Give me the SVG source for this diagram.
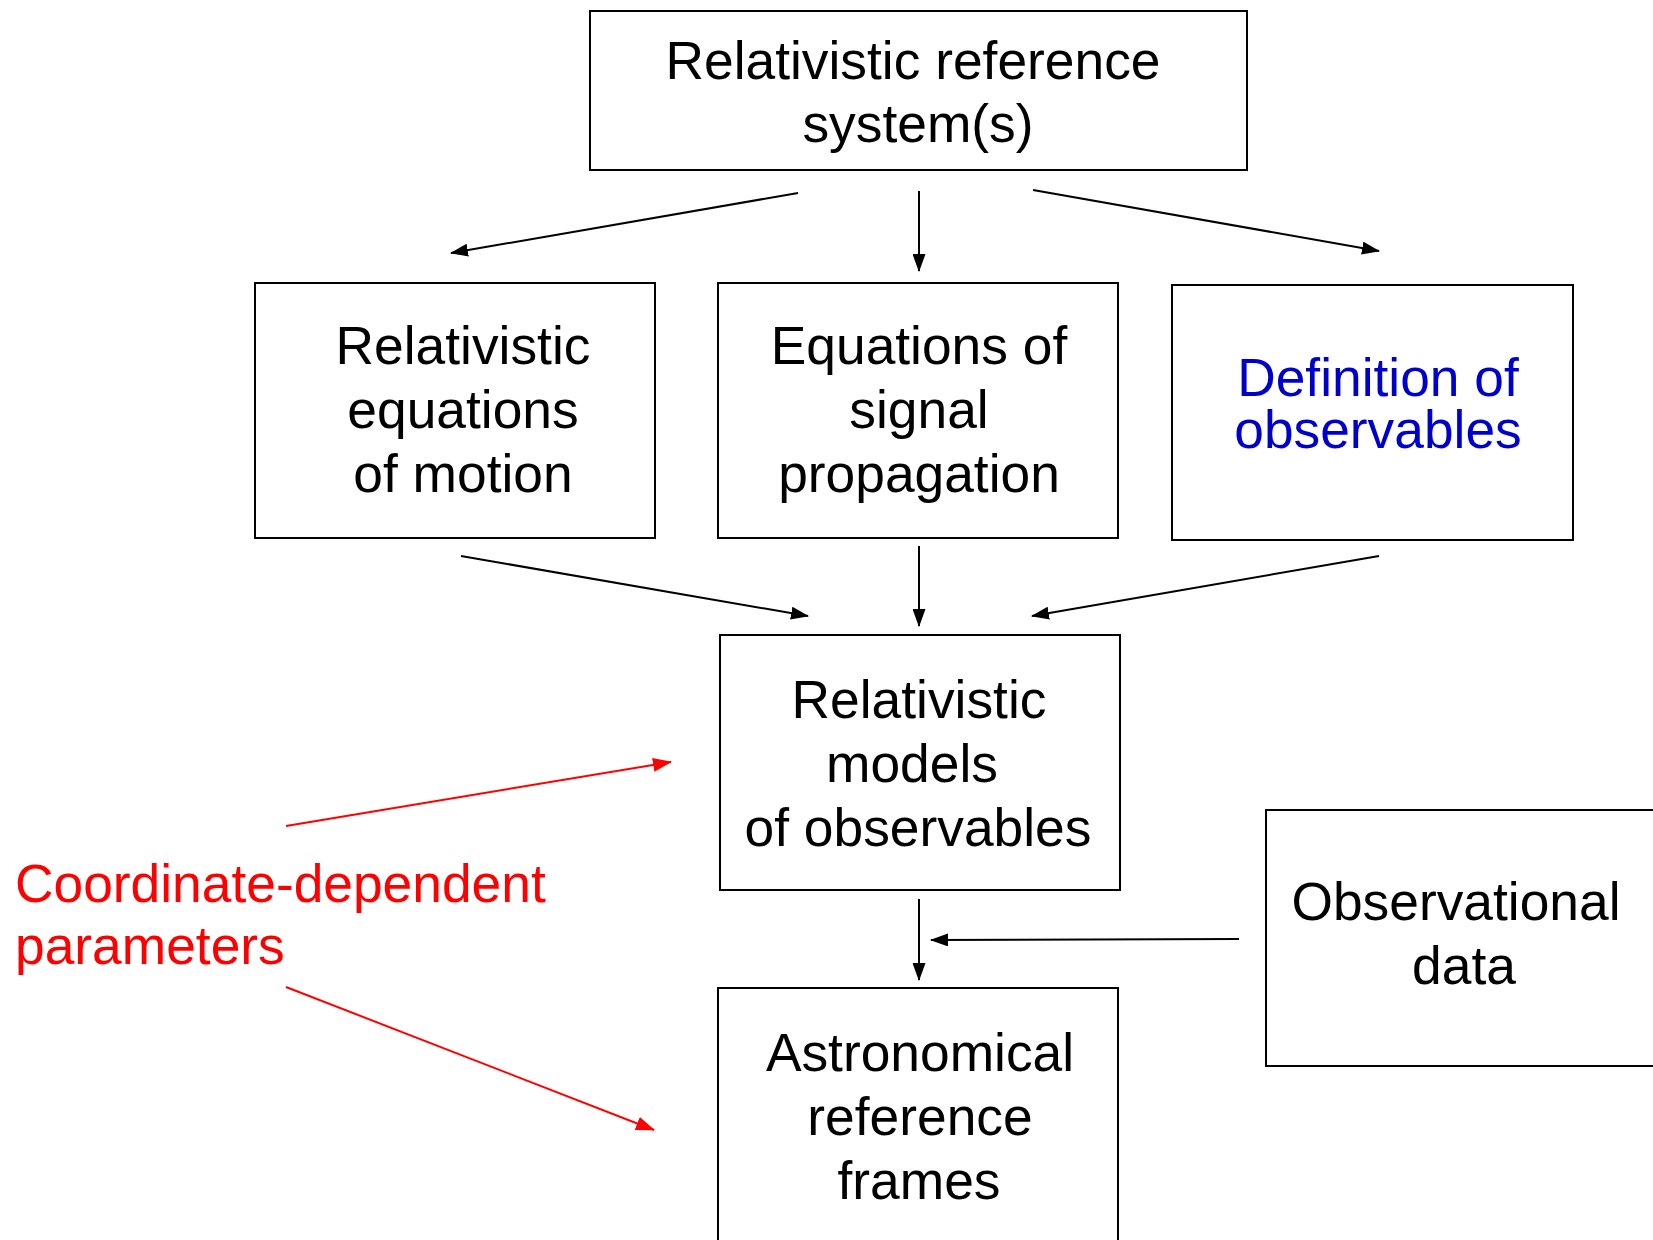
<svg xmlns="http://www.w3.org/2000/svg" width="1653" height="1240" viewBox="0 0 1653 1240">
<defs>
<style>
.box{fill:#fff;stroke:#000;stroke-width:2}
.t{font-family:"Liberation Sans",Arial,sans-serif;font-size:53.33px;fill:#000;text-anchor:middle}
.blue{fill:#0000CC}
.red{fill:#FF0000;text-anchor:start}
.c{stroke:#000;stroke-width:2;fill:none}
.cr{stroke:#FF0000;stroke-width:2;fill:none}
</style>
<marker id="ah" markerUnits="userSpaceOnUse" markerWidth="18" markerHeight="13" refX="17" refY="6.5" orient="auto">
<path d="M0,0 L18,6.5 L0,13 z" fill="#000"/>
</marker>
<marker id="ahr" markerUnits="userSpaceOnUse" markerWidth="19" markerHeight="14" refX="18" refY="7" orient="auto">
<path d="M0,0 L19,7 L0,14 z" fill="#FF0000"/>
</marker>
</defs>
<rect width="1653" height="1240" fill="#fff"/>
<g id="connectors">
<line class="c" x1="798" y1="193" x2="451" y2="253" marker-end="url(#ah)"/>
<line class="c" x1="919" y1="191" x2="919" y2="271" marker-end="url(#ah)"/>
<line class="c" x1="1033" y1="190" x2="1379" y2="251" marker-end="url(#ah)"/>
<line class="c" x1="461" y1="556" x2="808" y2="616" marker-end="url(#ah)"/>
<line class="c" x1="919" y1="546" x2="919" y2="626" marker-end="url(#ah)"/>
<line class="c" x1="1379" y1="556" x2="1032" y2="616" marker-end="url(#ah)"/>
<line class="c" x1="919" y1="899" x2="919" y2="980" marker-end="url(#ah)"/>
<line class="c" x1="1239" y1="939" x2="931" y2="940" marker-end="url(#ah)"/>
<line class="cr" x1="286" y1="826" x2="671" y2="762" marker-end="url(#ahr)"/>
<line class="cr" x1="286" y1="987" x2="654" y2="1130" marker-end="url(#ahr)"/>
</g>
<g id="node-top">
<rect class="box" x="590" y="11" width="657" height="159"/>
<text class="t" x="913" y="79">Relativistic reference</text>
<text class="t" x="918" y="142">system(s)</text>
</g>
<g id="node-motion">
<rect class="box" x="255" y="283" width="400" height="255"/>
<text class="t" x="463" y="364">Relativistic</text>
<text class="t" x="463" y="428">equations</text>
<text class="t" x="463" y="492">of motion</text>
</g>
<g id="node-signal">
<rect class="box" x="718" y="283" width="400" height="255"/>
<text class="t" x="919" y="364">Equations of</text>
<text class="t" x="919" y="428">signal</text>
<text class="t" x="919" y="492">propagation</text>
</g>
<g id="node-definition">
<rect class="box" x="1172" y="285" width="401" height="255"/>
<text class="t blue" x="1378" y="396">Definition of</text>
<text class="t blue" x="1378" y="448">observables</text>
</g>
<g id="node-models">
<rect class="box" x="720" y="635" width="400" height="255"/>
<text class="t" x="919" y="718">Relativistic</text>
<text class="t" x="912" y="782">models</text>
<text class="t" x="918" y="846">of observables</text>
</g>
<g id="node-frames">
<rect class="box" x="718" y="988" width="400" height="262"/>
<text class="t" x="920" y="1071">Astronomical</text>
<text class="t" x="920" y="1135">reference</text>
<text class="t" x="919" y="1199">frames</text>
</g>
<g id="node-data">
<rect class="box" x="1266" y="810" width="400" height="256"/>
<text class="t" x="1456" y="920">Observational</text>
<text class="t" x="1464" y="984">data</text>
</g>
<g id="label-params">
<text class="t red" x="15" y="902">Coordinate-dependent</text>
<text class="t red" x="15" y="964">parameters</text>
</g>
</svg>
